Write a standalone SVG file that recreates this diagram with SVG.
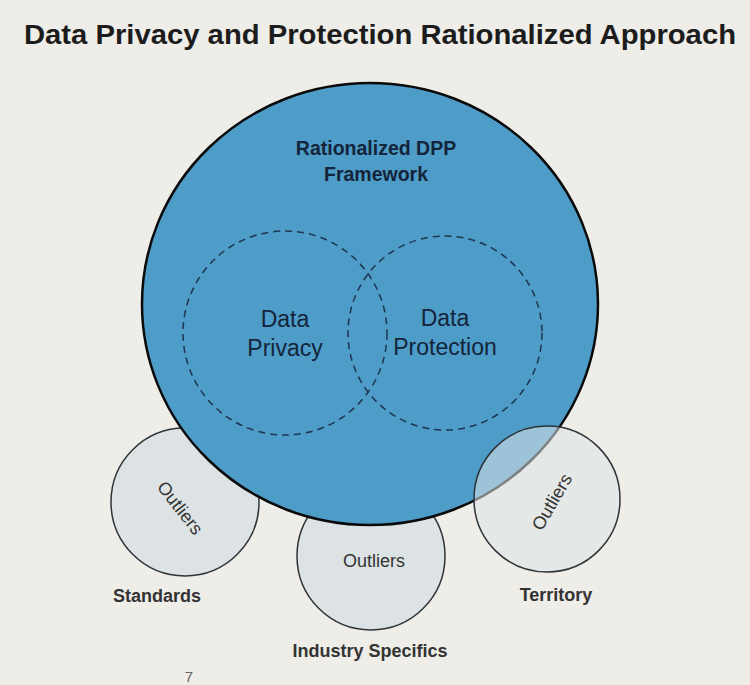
<svg xmlns="http://www.w3.org/2000/svg" width="750" height="685" viewBox="0 0 750 685">
<style>
.small{fill:#dde3e4;stroke:#2e3338;stroke-width:1.5}
.dash{fill:none;stroke:#1e3550;stroke-width:1.5;stroke-dasharray:7 5}
.out{font-family:"Liberation Sans",Arial,sans-serif;font-size:18px;fill:#333;text-anchor:middle}
.lab{font-family:"Liberation Sans",Arial,sans-serif;font-size:18px;font-weight:bold;fill:#333;text-anchor:middle}
.inner{font-family:"Liberation Sans",Arial,sans-serif;font-size:23px;fill:#14243a;text-anchor:middle}
.fw{font-family:"Liberation Sans",Arial,sans-serif;font-size:19.5px;font-weight:bold;fill:#14243a;text-anchor:middle}
</style>
<rect width="750" height="685" fill="#eeede8"/>
<text x="380" y="44" font-family="Liberation Sans,Arial,sans-serif" font-size="27" font-weight="bold" fill="#1c1c1c" text-anchor="middle" textLength="712" lengthAdjust="spacingAndGlyphs">Data Privacy and Protection Rationalized Approach</text>
<g id="standards">
<circle class="small" cx="185" cy="502" r="74"/>
<text class="out" transform="translate(180,508) rotate(52)" y="6">Outliers</text>
</g>
<g id="industry">
<circle class="small" cx="371" cy="556" r="74"/>
<text class="out" x="374" y="567">Outliers</text>
</g>
<g id="framework">
<ellipse cx="370" cy="304" rx="228" ry="221" fill="#4e9cc8" stroke="#0a0a0a" stroke-width="2.5"/>
<text class="fw" x="376" y="155">Rationalized DPP</text>
<text class="fw" x="376" y="181">Framework</text>
</g>
<g id="privacy">
<circle class="dash" cx="285" cy="333" r="102"/>
<text class="inner" x="285" y="327">Data</text>
<text class="inner" x="285" y="356">Privacy</text>
</g>
<g id="protection">
<circle class="dash" cx="445" cy="333" r="97"/>
<text class="inner" x="445" y="326">Data</text>
<text class="inner" x="445" y="355">Protection</text>
</g>
<g id="territory">
<circle cx="547" cy="499" r="73" fill="#dde3e4" fill-opacity="0.55" stroke="#2e3338" stroke-width="1.5"/>
<text class="out" transform="translate(552,502) rotate(-60)" y="6">Outliers</text>
</g>
<g id="labels">
<text class="lab" x="157" y="602">Standards</text>
<text class="lab" x="370" y="657">Industry Specifics</text>
<text class="lab" x="556" y="601">Territory</text>
<text x="189" y="682" font-family="Liberation Sans,Arial,sans-serif" font-size="15" fill="#666" text-anchor="middle">7</text>
</g>
<g id="connectors"></g>
</svg>
